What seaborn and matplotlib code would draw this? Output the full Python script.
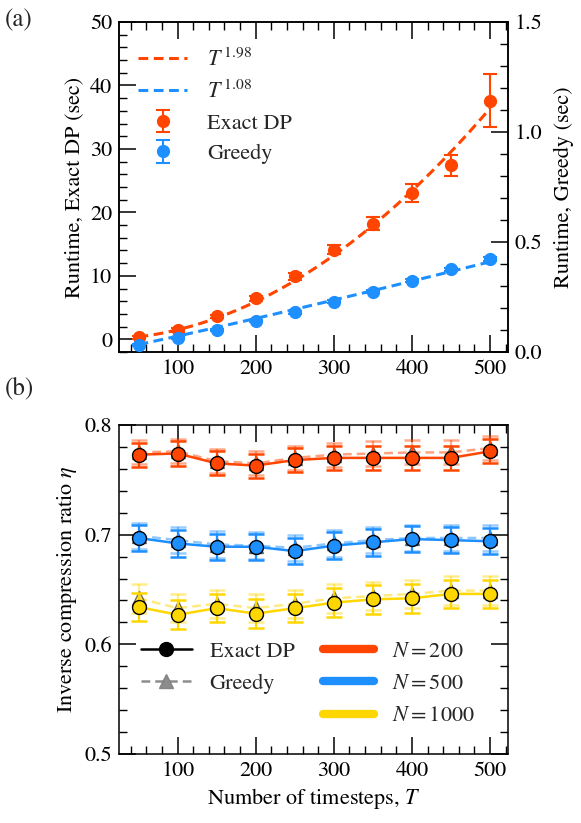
import numpy as np
import pandas as pd
import matplotlib
matplotlib.use("Agg")
import matplotlib.pyplot as plt
from matplotlib.lines import Line2D
from matplotlib.ticker import MultipleLocator
import seaborn as sns

# ---------------- data ----------------
T = [50, 100, 150, 200, 250, 300, 350, 400, 450, 500]

# panel (a): runtimes
exact_rt = [0.3, 1.5, 3.6, 6.5, 9.9, 14.1, 18.2, 23.1, 27.4, 37.6]
exact_rt_err = [0.2, 0.3, 0.3, 0.4, 0.5, 0.7, 1.0, 1.4, 1.6, 4.2]
greedy_rt = [0.031, 0.065, 0.099, 0.140, 0.180, 0.229, 0.274, 0.323, 0.376, 0.424]
greedy_rt_err = [0.004, 0.004, 0.005, 0.005, 0.006, 0.006, 0.007, 0.007, 0.008, 0.009]
exp_exact = 1.98
exp_greedy = 1.08

# panel (b): inverse compression ratio
eta_exact = {
    200: [0.773, 0.774, 0.765, 0.763, 0.768, 0.770, 0.770, 0.770, 0.770, 0.776],
    500: [0.697, 0.692, 0.689, 0.689, 0.685, 0.690, 0.693, 0.696, 0.695, 0.694],
    1000: [0.634, 0.627, 0.633, 0.628, 0.633, 0.638, 0.641, 0.642, 0.646, 0.646],
}
eta_greedy = {
    200: [0.775, 0.776, 0.767, 0.765, 0.770, 0.773, 0.774, 0.775, 0.775, 0.779],
    500: [0.699, 0.695, 0.691, 0.690, 0.688, 0.692, 0.695, 0.697, 0.697, 0.697],
    1000: [0.642, 0.633, 0.637, 0.633, 0.637, 0.642, 0.644, 0.646, 0.649, 0.649],
}
eta_err = {200: 0.011, 500: 0.012, 1000: 0.013}
N_values = [200, 500, 1000]
colors = {200: "#FF4500", 500: "#1E8FFF", 1000: "#FFD700"}
c_exact_rt = "#FF4500"
c_greedy_rt = "#1E8FFF"

FS = 16

# ---------------- style ----------------
sns.set_theme(style="ticks")
plt.rcParams.update({
    "font.family": ["STIXGeneral", "DejaVu Serif"],
    "mathtext.fontset": "stix",
    "font.size": FS,
    "axes.linewidth": 1.1,
    "axes.edgecolor": "black",
    "xtick.direction": "in",
    "ytick.direction": "in",
    "xtick.major.size": 12,
    "ytick.major.size": 12,
    "xtick.minor.size": 6,
    "ytick.minor.size": 6,
    "xtick.major.width": 1.1,
    "ytick.major.width": 1.1,
    "xtick.minor.width": 1.0,
    "ytick.minor.width": 1.0,
    "xtick.labelsize": FS,
    "ytick.labelsize": FS,
    "xtick.color": "black",
    "ytick.color": "black",
    "axes.labelcolor": "black",
    "xtick.major.pad": 5,
    "ytick.major.pad": 5,
})

fig = plt.figure(figsize=(5.81, 8.23), dpi=100)
W, H = 581, 823
def rect(l, r, t, b):
    return [l / W, 1 - b / H, (r - l) / W, (b - t) / H]

# ---------------- panel (a) ----------------
ax = fig.add_axes(rect(119, 508, 22, 352))
ax2 = ax.twinx()

Tarr = np.array(T, dtype=float)
Tfine = np.linspace(50, 500, 200)
ye = np.array(exact_rt)
yg = np.array(greedy_rt)
ce = np.sum(ye * Tarr**exp_exact) / np.sum(Tarr**(2 * exp_exact))
cg = np.sum(yg * Tarr**exp_greedy) / np.sum(Tarr**(2 * exp_greedy))
fit_df = pd.DataFrame({"T": Tfine, "exact": ce * Tfine**exp_exact, "greedy": cg * Tfine**exp_greedy})

DASH = (0, (3.2, 1.8))
sns.lineplot(data=fit_df, x="T", y="exact", ax=ax, color=c_exact_rt, lw=2.2, zorder=3)
ax.lines[-1].set_linestyle(DASH)
sns.lineplot(data=fit_df, x="T", y="greedy", ax=ax2, color=c_greedy_rt, lw=2.2, zorder=3)
ax2.lines[-1].set_linestyle(DASH)

eb1 = ax.errorbar(T, exact_rt, yerr=exact_rt_err, fmt="o", color=c_exact_rt, ms=8.5,
                  capsize=5, elinewidth=1.5, capthick=1.5, zorder=4)
eb2 = ax2.errorbar(T, greedy_rt, yerr=greedy_rt_err, fmt="o", color=c_greedy_rt, ms=8.5,
                   capsize=5, elinewidth=1.5, capthick=1.5, zorder=4)

ax.set_xlim(25, 523)
ax.set_ylim(-2, 50)
ax2.set_ylim(0, 1.5)
ax.xaxis.set_major_locator(MultipleLocator(100))
ax.xaxis.set_minor_locator(MultipleLocator(20))
ax.yaxis.set_major_locator(MultipleLocator(10))
ax.yaxis.set_minor_locator(MultipleLocator(2))
ax2.yaxis.set_major_locator(MultipleLocator(0.5))
ax2.yaxis.set_minor_locator(MultipleLocator(0.1))
ax2.yaxis.set_major_formatter(matplotlib.ticker.FormatStrFormatter("%.1f"))
ax.tick_params(axis="x", which="both", top=True, bottom=True)
ax.tick_params(axis="y", which="both", left=True, right=False)
ax2.tick_params(axis="y", which="both", left=False, right=True)
ax.set_xlabel("")
ax.set_ylabel("Runtime, Exact DP (sec)", fontsize=FS, labelpad=4)
ax2.set_ylabel("Runtime, Greedy (sec)", fontsize=FS, labelpad=8)

h_fe = Line2D([], [], color=c_exact_rt, lw=2.2, ls=DASH)
h_fg = Line2D([], [], color=c_greedy_rt, lw=2.2, ls=DASH)
leg = ax.legend([h_fe, h_fg, eb1, eb2],
                [r"$T^{\,%.2f}$" % exp_exact, r"$T^{\,%.2f}$" % exp_greedy, "Exact DP", "Greedy"],
                loc="upper left", bbox_to_anchor=(0.01, 0.968), frameon=False, fontsize=FS,
                handlelength=2.2, handletextpad=0.9, labelspacing=0.45, borderaxespad=0.3)
fig.text(5 / W, 1 - 20 / H, "(a)", fontsize=18, ha="left", va="center")

# ---------------- panel (b) ----------------
bx = fig.add_axes(rect(119, 508, 425, 754))
rows = []
for n in N_values:
    for t, ve, vg in zip(T, eta_exact[n], eta_greedy[n]):
        rows.append({"T": t, "N": n, "exact": ve, "greedy": vg})
df = pd.DataFrame(rows)

for n in N_values:
    sub = df[df["N"] == n]
    c = colors[n]
    # greedy (behind)
    sns.lineplot(data=sub, x="T", y="greedy", ax=bx, color=c, lw=1.8, alpha=0.5, zorder=2)
    bx.lines[-1].set_linestyle((0, (3.5, 2)))
    bx.errorbar(sub["T"], sub["greedy"], yerr=eta_err[n], fmt="none", ecolor=c, alpha=0.45,
                capsize=6, elinewidth=1.6, capthick=1.8, zorder=2)
    bx.plot(sub["T"], sub["greedy"], ls="none", marker="^", ms=10, mfc=c, mec="black",
            mew=1.0, alpha=0.55, zorder=3)
    # exact DP
    sns.lineplot(data=sub, x="T", y="exact", ax=bx, color=c, lw=1.8, zorder=4)
    bx.errorbar(sub["T"], sub["exact"], yerr=eta_err[n], fmt="none", ecolor=c,
                capsize=6, elinewidth=1.6, capthick=1.8, zorder=4)
    bx.plot(sub["T"], sub["exact"], ls="none", marker="o", ms=10, mfc=c, mec="black",
            mew=1.0, zorder=5)

bx.set_xlim(25, 523)
bx.set_ylim(0.5, 0.8)
bx.xaxis.set_major_locator(MultipleLocator(100))
bx.xaxis.set_minor_locator(MultipleLocator(20))
bx.yaxis.set_major_locator(MultipleLocator(0.1))
bx.yaxis.set_minor_locator(MultipleLocator(0.02))
bx.tick_params(axis="both", which="both", top=True, bottom=True, left=True, right=True)
bx.set_xlabel("Number of timesteps, $T$", fontsize=FS, labelpad=4)
bx.set_ylabel(r"Inverse compression ratio $\eta$", fontsize=FS, labelpad=4)

h_ex = Line2D([], [], color="black", lw=1.8, marker="o", ms=10)
h_gr = Line2D([], [], color="gray", lw=1.8, ls=(0, (3.5, 2)), marker="^", ms=10, alpha=0.9)
h_n = [Line2D([], [], color=colors[n], lw=6) for n in N_values]
blank = Line2D([], [], color="none")
leg2 = bx.legend([h_ex, h_gr, blank] + h_n,
                 ["Exact DP", "Greedy", ""] + [r"$N = %d$" % n for n in N_values],
                 ncol=2, loc="lower left", bbox_to_anchor=(0.01, 0.03), frameon=False,
                 fontsize=FS, handlelength=2.3, handletextpad=0.8, labelspacing=0.52,
                 columnspacing=1.3, borderaxespad=0.4)
fig.text(5 / W, 1 - 388 / H, "(b)", fontsize=18, ha="left", va="center")

fig.savefig("out.png", dpi=100)
